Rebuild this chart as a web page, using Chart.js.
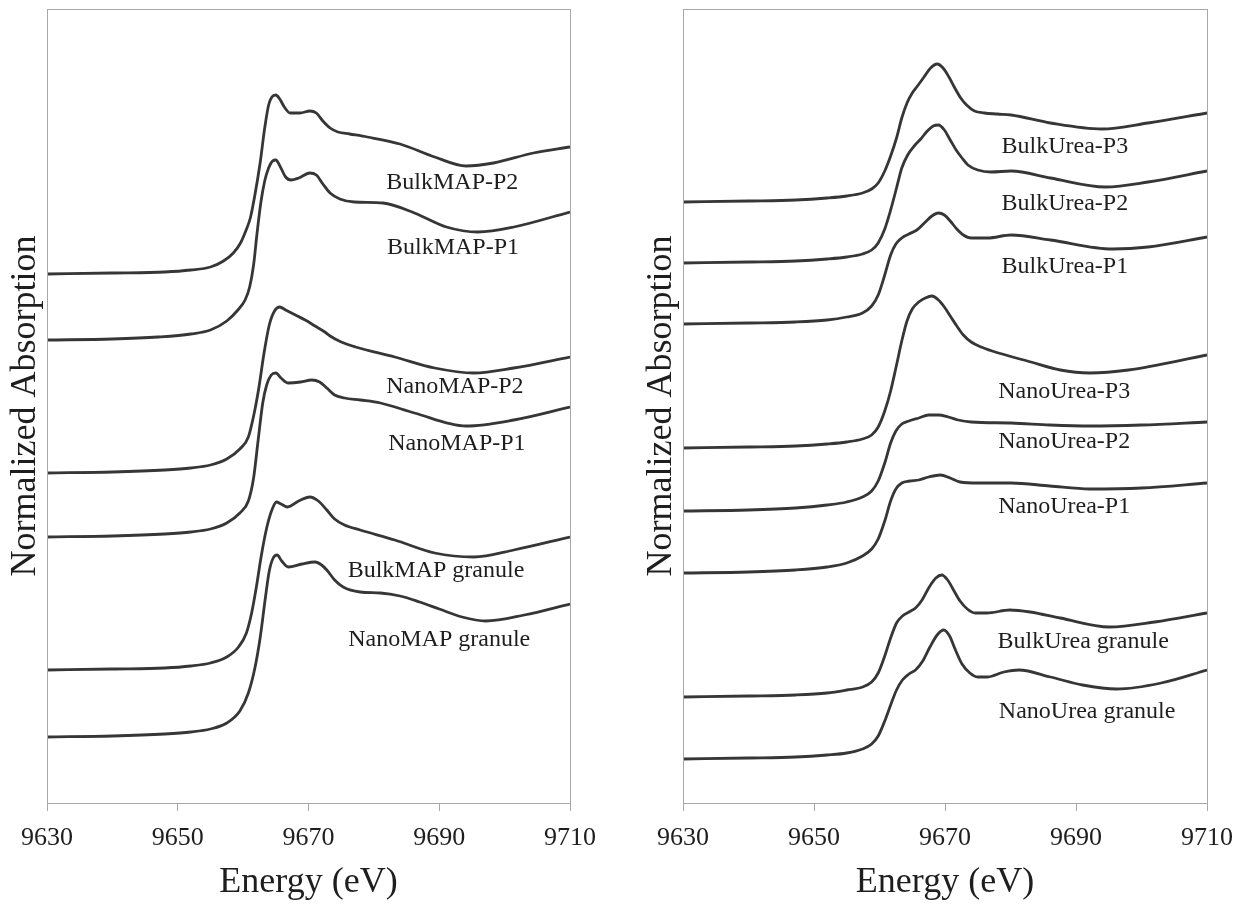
<!DOCTYPE html>
<html>
<head>
<meta charset="utf-8">
<script src="https://cdn.jsdelivr.net/npm/chart.js@4/dist/chart.umd.min.js"></script>
<style>
body { margin: 0; background: #fff; }
#wrap { position: relative; width: 1234px; height: 907px; }
canvas { position: absolute; top: 0; }
</style>
</head>
<body>
<div id="wrap">
<canvas id="leftChart" width="617" height="907" style="left:0"></canvas>
<canvas id="rightChart" width="617" height="907" style="left:617px"></canvas>
</div>
<script>
// x axis
var energyMin = 9630, energyMax = 9710, energyStep = 20;

// left panel: MAP spectra (energy eV / stacked normalized absorption)
var bulkMapP2E = [9630,9640,9648,9652,9655,9657,9658.5,9659.6,9660.4,9661.1,9661.8,9662.6,9663.3,9663.9,9664.4,9665,9665.6,9666.3,9667.2,9668.7,9670.2,9671.2,9672.2,9673.3,9674.5,9676.3,9679,9684,9689.3,9694.1,9698.3,9704.4,9710];
var bulkMapP2A = [5.29,5.30,5.31,5.33,5.36,5.42,5.50,5.60,5.72,5.85,6.08,6.40,6.75,6.98,7.06,7.08,7.04,6.96,6.90,6.90,6.92,6.90,6.82,6.75,6.71,6.69,6.66,6.59,6.46,6.37,6.40,6.50,6.56];
var bulkMapP1E = [9630,9640,9647,9652,9655,9657.5,9659.2,9660.3,9661,9661.6,9662.1,9662.7,9663.3,9663.9,9664.5,9665,9665.7,9666.5,9667.3,9668.5,9670.2,9671.2,9672.2,9673.3,9674.8,9677,9681.4,9686.2,9691.1,9695.9,9701.4,9710];
var bulkMapP1A = [4.63,4.64,4.66,4.69,4.73,4.82,4.93,5.03,5.16,5.38,5.68,6.00,6.22,6.35,6.42,6.43,6.36,6.26,6.23,6.25,6.30,6.28,6.19,6.10,6.04,6.01,6.00,5.90,5.76,5.71,5.76,5.91];
var nanoMapP2E = [9630,9640,9648,9652,9655,9657.5,9659.5,9660.8,9661.7,9662.4,9663.2,9664,9664.8,9665.6,9666.5,9668,9669.5,9671,9672.5,9673.3,9675,9677.2,9683.2,9689.3,9695.3,9701.4,9710];
var nanoMapP2A = [3.30,3.31,3.33,3.35,3.38,3.44,3.54,3.66,3.90,4.15,4.50,4.78,4.92,4.96,4.93,4.88,4.83,4.77,4.71,4.67,4.61,4.56,4.46,4.35,4.30,4.35,4.46];
var nanoMapP1E = [9630,9640,9648,9652,9655,9657.5,9659.5,9660.8,9661.6,9662.3,9663,9663.6,9664.3,9665,9665.8,9666.9,9668.8,9670.5,9671.7,9672.8,9674,9675.5,9677.9,9681,9686.2,9694.1,9701.4,9710];
var nanoMapP1A = [2.66,2.67,2.69,2.71,2.74,2.80,2.90,3.02,3.25,3.63,4.00,4.18,4.28,4.30,4.25,4.20,4.21,4.23,4.21,4.15,4.08,4.05,4.03,4.00,3.90,3.77,3.83,3.96];
var bulkMapGrE = [9630,9640,9648,9652,9655,9657.5,9659.3,9660.5,9661.3,9662,9662.8,9663.6,9664.4,9665.1,9665.8,9666.8,9668.5,9670.2,9671.5,9672.8,9674,9675.5,9677.9,9683.2,9689.3,9695.3,9701.4,9710];
var bulkMapGrA = [1.33,1.34,1.35,1.37,1.40,1.46,1.56,1.70,1.90,2.15,2.48,2.75,2.93,3.01,2.99,2.96,3.02,3.06,3.02,2.93,2.84,2.78,2.73,2.63,2.50,2.46,2.53,2.66];
var nanoMapGrE = [9630,9640,9648,9652,9655,9657.5,9659.5,9660.8,9661.8,9662.6,9663.4,9664,9664.6,9665.2,9665.9,9666.9,9669,9671,9672,9672.8,9674,9675.3,9677.9,9681,9684,9687,9690,9693.5,9697.1,9703,9710];
var nanoMapGrA = [0.66,0.67,0.69,0.71,0.74,0.80,0.92,1.10,1.35,1.65,2.05,2.32,2.45,2.48,2.42,2.36,2.39,2.41,2.38,2.33,2.23,2.16,2.11,2.10,2.07,2.01,1.94,1.86,1.82,1.88,1.99];

// right panel: urea spectra
var bulkUreaP3E = [9630,9640,9647.2,9652,9655,9657.4,9658.8,9659.8,9660.8,9661.7,9662.6,9663.4,9664.2,9665,9665.8,9666.8,9667.8,9668.8,9669.7,9670.6,9671.5,9672.4,9673.3,9674.5,9676,9678,9680.1,9686.1,9693.9,9701,9710];
var bulkUreaP3A = [6.01,6.02,6.03,6.05,6.07,6.10,6.14,6.20,6.32,6.47,6.65,6.85,7.00,7.10,7.17,7.26,7.35,7.39,7.35,7.26,7.15,7.05,6.98,6.92,6.90,6.89,6.88,6.80,6.74,6.80,6.90];
var bulkUreaP2E = [9630,9640,9647.2,9652,9655,9657.4,9658.8,9659.8,9660.8,9661.7,9662.6,9663.4,9664.3,9665.3,9666.3,9667.3,9668.2,9669,9669.9,9670.8,9671.7,9672.6,9673.5,9675,9677,9680.1,9686.1,9694.5,9701,9710];
var bulkUreaP2A = [5.40,5.41,5.42,5.44,5.46,5.49,5.53,5.60,5.74,5.93,6.15,6.35,6.48,6.57,6.64,6.72,6.77,6.78,6.73,6.63,6.53,6.45,6.38,6.33,6.31,6.32,6.25,6.16,6.21,6.32];
var bulkUreaP1E = [9630,9640,9647.2,9652,9655,9657.4,9658.8,9659.8,9660.8,9661.7,9662.5,9663.4,9664.5,9665.7,9667,9668,9669,9669.9,9670.8,9671.8,9672.8,9674,9676.5,9680.1,9686.1,9695.6,9701,9710];
var bulkUreaP1A = [4.79,4.80,4.81,4.83,4.86,4.90,4.97,5.08,5.28,5.48,5.59,5.65,5.69,5.73,5.81,5.87,5.90,5.88,5.82,5.74,5.68,5.65,5.65,5.68,5.63,5.54,5.56,5.66];
var nanoUreaP3E = [9630,9640,9647.2,9652,9655,9657.4,9658.8,9659.8,9660.8,9661.7,9662.6,9663.4,9664.2,9665,9666,9667,9668,9669,9669.9,9670.8,9671.8,9672.8,9674,9675.5,9677.2,9683.1,9687.6,9692.1,9698,9710];
var nanoUreaP3A = [3.55,3.56,3.57,3.59,3.61,3.64,3.68,3.76,3.92,4.12,4.38,4.62,4.82,4.94,5.01,5.05,5.07,5.03,4.96,4.87,4.77,4.68,4.61,4.56,4.52,4.41,4.33,4.30,4.33,4.48];
var nanoUreaP2E = [9630,9640,9647.2,9652,9655,9657.4,9658.8,9659.8,9660.8,9661.7,9662.5,9663.4,9664.5,9666,9667.5,9669,9670.5,9672,9674,9680.1,9686,9692.1,9700,9710];
var nanoUreaP2A = [2.92,2.93,2.95,2.98,3.01,3.06,3.12,3.22,3.40,3.60,3.72,3.79,3.82,3.85,3.88,3.88,3.86,3.83,3.81,3.80,3.78,3.77,3.78,3.81];
var nanoUreaP1E = [9630,9640,9647.2,9652,9655,9657.4,9658.8,9659.8,9660.8,9661.7,9662.5,9663.4,9664.6,9666,9667.5,9669.3,9670.8,9672.3,9675,9680.1,9686,9692.1,9700,9710];
var nanoUreaP1A = [2.30,2.31,2.33,2.36,2.40,2.47,2.54,2.64,2.82,3.02,3.14,3.20,3.22,3.23,3.26,3.28,3.25,3.21,3.20,3.20,3.17,3.14,3.15,3.20];
var bulkUreaGrE = [9630,9640,9647.2,9652,9655,9657.4,9658.8,9659.8,9660.8,9661.7,9662.6,9663.5,9664.5,9665.5,9666.5,9667.6,9668.6,9669.5,9670.4,9671.3,9672.3,9673.4,9674.6,9676.4,9679.9,9683,9687.6,9695.1,9702,9710];
var bulkUreaGrA = [1.06,1.07,1.08,1.10,1.13,1.16,1.21,1.30,1.47,1.65,1.80,1.87,1.91,1.95,2.03,2.16,2.25,2.28,2.23,2.13,2.02,1.94,1.90,1.90,1.93,1.91,1.85,1.76,1.81,1.90];
var nanoUreaGrE = [9630,9640,9647.2,9652,9655,9657.4,9658.8,9659.8,9660.8,9661.7,9662.6,9663.5,9664.5,9665.5,9666.6,9667.7,9668.8,9669.8,9670.7,9671.6,9672.6,9673.8,9675,9676.5,9679,9681.3,9686.1,9691,9696.2,9703,9710];
var nanoUreaGrA = [0.44,0.45,0.46,0.48,0.50,0.54,0.59,0.67,0.82,0.98,1.13,1.23,1.29,1.33,1.42,1.56,1.68,1.73,1.67,1.53,1.39,1.30,1.26,1.26,1.31,1.33,1.26,1.18,1.14,1.20,1.33];

// curve names and where they are written
var leftNames = ['BulkMAP-P2','BulkMAP-P1','NanoMAP-P2','NanoMAP-P1','BulkMAP granule','NanoMAP granule'];
var leftNameE = [9692, 9692.1, 9692.4, 9692.7, 9689.5, 9690];
var leftNameA = [6.20, 5.55, 4.16, 3.59, 2.32, 1.63];
var rightNames = ['BulkUrea-P3','BulkUrea-P2','BulkUrea-P1','NanoUrea-P3','NanoUrea-P2','NanoUrea-P1','BulkUrea granule','NanoUrea granule'];
var rightNameE = [9688.3, 9688.3, 9688.3, 9688.2, 9688.2, 9688.2, 9691.1, 9691.7];
var rightNameA = [6.56, 5.99, 5.36, 4.11, 3.61, 2.96, 1.61, 0.91];

var serif = '"Liberation Serif", "Times New Roman", serif';

function pts(e, a) {
	var out = [];
	for (var i = 0; i < e.length; i++) out.push({x: e[i], y: a[i]});
	return out;
}

function line(e, a) {
	return {
		data: pts(e, a),
		borderColor: '#363636',
		borderWidth: 2.8,
		pointRadius: 0,
		fill: false,
		cubicInterpolationMode: 'monotone'
	};
}

// frame, curve names and axis titles
var decorate = {
	id: 'decorate',
	afterDraw: function(chart, args, opts) {
		var c = chart.ctx, a = chart.chartArea;
		var xs = chart.scales.x, ys = chart.scales.y;
		c.save();
		c.strokeStyle = '#a8a8a8';
		c.lineWidth = 1;
		c.strokeRect(a.left + 0.5, a.top + 0.5, a.right - a.left, a.bottom - a.top);
		c.fillStyle = '#1e1e1e';
		c.textAlign = 'center';
		c.textBaseline = 'middle';
		c.font = '24px ' + serif;
		for (var i = 0; i < opts.names.length; i++) {
			c.fillText(opts.names[i], xs.getPixelForValue(opts.energy[i]), ys.getPixelForValue(opts.absorb[i]));
		}
		c.save();
		c.translate(a.left - 21, (a.top + a.bottom) / 2);
		c.rotate(-Math.PI / 2);
		c.font = '36px ' + serif;
		c.fillText('Normalized Absorption', 0, 0);
		c.restore();
		c.font = '36px ' + serif;
		c.fillText('Energy (eV)', (a.left + a.right) / 2, 883);
		c.restore();
	}
};

function makeChart(id, sets, names, nameE, nameA, leftW, rightPad) {
	var ctx = document.getElementById(id).getContext('2d');
	return new Chart(ctx, {
		type: 'line',
		data: { datasets: sets },
		plugins: [decorate],
		options: {
			responsive: false,
			animation: false,
			layout: { padding: { top: 9, right: rightPad, bottom: 0, left: 0 } },
			plugins: {
				legend: { display: false },
				tooltip: { enabled: false },
				decorate: { names: names, energy: nameE, absorb: nameA }
			},
			scales: {
				x: {
					type: 'linear',
					min: energyMin,
					max: energyMax,
					afterFit: function(s) { s.height = 104; s.paddingLeft = 0; s.paddingRight = 0; },
					ticks: {
						stepSize: energyStep,
						color: '#1e1e1e',
						padding: 12,
						maxRotation: 0,
						font: { family: serif, size: 26 },
						callback: function(v) { return String(v); }
					},
					grid: { drawOnChartArea: false, tickLength: 8, color: '#a8a8a8' },
					border: { color: '#a8a8a8' }
				},
				y: {
					min: 0,
					max: 7.94,
					afterFit: function(s) { s.width = leftW; },
					ticks: { display: false },
					grid: { display: false },
					border: { color: '#a8a8a8' }
				}
			}
		}
	});
}

makeChart('leftChart', [
	line(bulkMapP2E, bulkMapP2A), line(bulkMapP1E, bulkMapP1A),
	line(nanoMapP2E, nanoMapP2A), line(nanoMapP1E, nanoMapP1A),
	line(bulkMapGrE, bulkMapGrA), line(nanoMapGrE, nanoMapGrA)
], leftNames, leftNameE, leftNameA, 47, 47);

makeChart('rightChart', [
	line(bulkUreaP3E, bulkUreaP3A), line(bulkUreaP2E, bulkUreaP2A), line(bulkUreaP1E, bulkUreaP1A),
	line(nanoUreaP3E, nanoUreaP3A), line(nanoUreaP2E, nanoUreaP2A), line(nanoUreaP1E, nanoUreaP1A),
	line(bulkUreaGrE, bulkUreaGrA), line(nanoUreaGrE, nanoUreaGrA)
], rightNames, rightNameE, rightNameA, 66, 27);
</script>
</body>
</html>
